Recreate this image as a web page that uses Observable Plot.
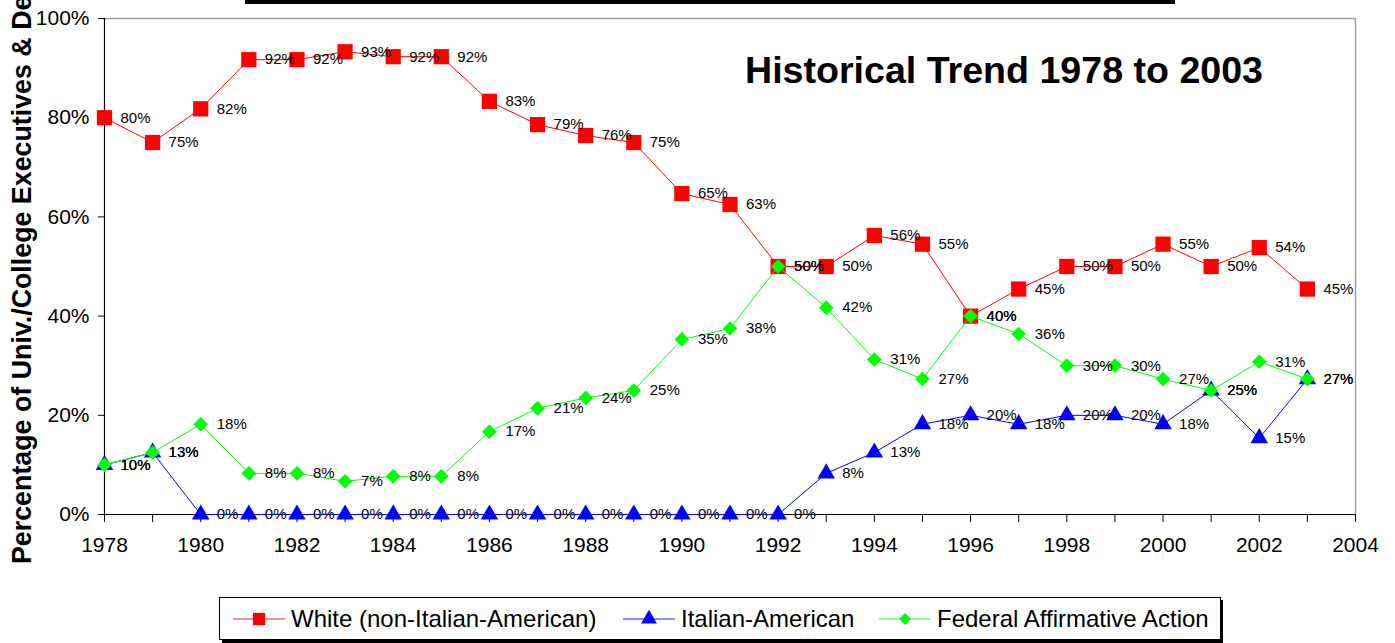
<!DOCTYPE html>
<html>
<head>
<meta charset="utf-8">
<script src="https://cdn.jsdelivr.net/npm/d3@7"></script>
<script src="https://cdn.jsdelivr.net/npm/@observablehq/plot@0.6"></script>
<style>
  html, body { margin: 0; padding: 0; background: #fff; }
  body { width: 1395px; height: 643px; overflow: hidden; position: relative; font-family: "Liberation Sans", Arial, sans-serif; }
  #chart { position: absolute; left: 0; top: 0; }
  #topbar { position: absolute; left: 245px; top: 0; width: 930px; height: 4px; background: #000; }
  #title { position: absolute; left: 745px; top: 52px; font-size: 37.6px; line-height: 1; font-weight: bold; color: #000; white-space: nowrap; }
  #ylabel { position: absolute; left: 0; top: 0; }
  #legend { position: absolute; left: 0; top: 590px; }
</style>
</head>
<body>
<div id="chart"></div>
<div id="topbar"></div>
<div id="title">Historical Trend 1978 to 2003</div>
<svg id="ylabel" width="60" height="590"></svg>
<svg id="legend" width="1395" height="53"></svg>
<script>
// ---- data ----
const years = [1978,1979,1980,1981,1982,1983,1984,1985,1986,1987,1988,1989,1990,1991,1992,1993,1994,1995,1996,1997,1998,1999,2000,2001,2002,2003];
const whiteValues = [0.80,0.75,0.818,0.917,0.917,0.933,0.923,0.923,0.833,0.786,0.764,0.75,0.647,0.625,0.50,0.50,0.5625,0.545,0.40,0.4545,0.50,0.50,0.545,0.50,0.538,0.4545];
const italianValues = [0.10,0.125,0,0,0,0,0,0,0,0,0,0,0,0,0,0.083,0.125,0.182,0.20,0.182,0.20,0.20,0.182,0.25,0.154,0.273];
const federalValues = [0.10,0.125,0.182,0.083,0.083,0.067,0.077,0.077,0.167,0.214,0.235,0.25,0.353,0.375,0.50,0.417,0.3125,0.273,0.40,0.364,0.30,0.30,0.273,0.25,0.308,0.273];
const seriesNames = ["White (non-Italian-American)", "Italian-American", "Federal Affirmative Action"];
const seriesColors = ["#FF0000", "#0000FF", "#00FF00"];
const seriesSymbols = ["square", "triangle", "diamond2"];
const yTicks = [0, 0.2, 0.4, 0.6, 0.8, 1.0];
const xTicks = [1978,1979,1980,1981,1982,1983,1984,1985,1986,1987,1988,1989,1990,1991,1992,1993,1994,1995,1996,1997,1998,1999,2000,2001,2002,2003,2004];
const yAxisLabel = "Percentage of Univ./College Executives & Deans";

// ---- build tables ----
const allValues = [whiteValues, italianValues, federalValues];
const tables = allValues.map((vals, i) => years.map((yr, j) => ({year: yr, value: vals[j], series: seriesNames[i]})));
const pct = d3.format(".0%");
const symbolR = [8.6, 6.5, 6.6];

const marks = [
  Plot.ruleY([1], {stroke: "#a0a0a0", strokeWidth: 1.5}),
  Plot.ruleX([2004], {stroke: "#a0a0a0", strokeWidth: 1.5}),
  Plot.axisX({ticks: xTicks, tickSize: 8, tickPadding: 15, tickFormat: d => (d % 2 === 0 ? String(d) : ""), fontSize: 21, label: null}),
  Plot.axisY({ticks: yTicks, tickSize: 6, tickPadding: 9, tickFormat: pct, fontSize: 21, label: null}),
  Plot.ruleY([0], {stroke: "#000", strokeWidth: 1.2}),
  Plot.ruleX([1978], {stroke: "#000", strokeWidth: 1.2})
];
tables.forEach((t, i) => {
  marks.push(Plot.line(t, {x: "year", y: "value", stroke: seriesColors[i], strokeWidth: 1}));
  marks.push(Plot.dot(t, {x: "year", y: "value", symbol: () => seriesSymbols[i], r: symbolR[i], fill: seriesColors[i], stroke: "none"}));
});
tables.forEach((t, i) => {
  marks.push(Plot.text(t, {x: "year", y: "value", text: d => pct(d.value), dx: 16, textAnchor: "start", fontSize: 15, fill: "#000"}));
});

const chart = Plot.plot({
  width: 1395,
  height: 580,
  marginTop: 18,
  marginBottom: 66,
  marginLeft: 104,
  marginRight: 40,
  style: {fontFamily: "'Liberation Sans', Arial, sans-serif", color: "#000", background: "transparent", overflow: "visible"},
  x: {domain: [1978, 2004], label: null},
  y: {domain: [0, 1], label: null},
  symbol: {type: "identity"},
  marks
});
document.getElementById("chart").appendChild(chart);

// ---- y axis label ----
const yl = d3.select("#ylabel");
yl.append("text")
  .attr("transform", "translate(31,564) rotate(-90)")
  .attr("font-family", "'Liberation Sans', Arial, sans-serif")
  .attr("font-weight", "bold")
  .attr("font-size", 26.8)
  .attr("fill", "#000")
  .text(yAxisLabel);

// ---- legend ----
const lg = d3.select("#legend");
lg.append("rect").attr("x", 222).attr("y", 10).attr("width", 1001).attr("height", 43).attr("fill", "#000");
lg.append("rect").attr("x", 219.5).attr("y", 7.5).attr("width", 1001).attr("height", 42).attr("fill", "#fff").attr("stroke", "#000").attr("stroke-width", 1);
const itemX = [233, 623, 879];
const textX = [291, 681, 937];
const legendSym = [d3.symbolSquare, d3.symbolTriangle, d3.symbolDiamond2];
const legendSize = [150, 110, 90];
seriesNames.forEach((name, i) => {
  const cy = 29;
  lg.append("line").attr("x1", itemX[i]).attr("x2", itemX[i] + 52).attr("y1", cy).attr("y2", cy)
    .attr("stroke", seriesColors[i]).attr("stroke-width", 1.5).attr("stroke-opacity", 0.6);
  lg.append("path").attr("d", d3.symbol(legendSym[i], legendSize[i])())
    .attr("transform", `translate(${itemX[i] + 26},${cy})`).attr("fill", seriesColors[i]);
  lg.append("text").attr("x", textX[i]).attr("y", cy + 8)
    .attr("font-family", "'Liberation Sans', Arial, sans-serif").attr("font-size", 24).attr("fill", "#000")
    .text(name);
});
</script>
</body>
</html>
